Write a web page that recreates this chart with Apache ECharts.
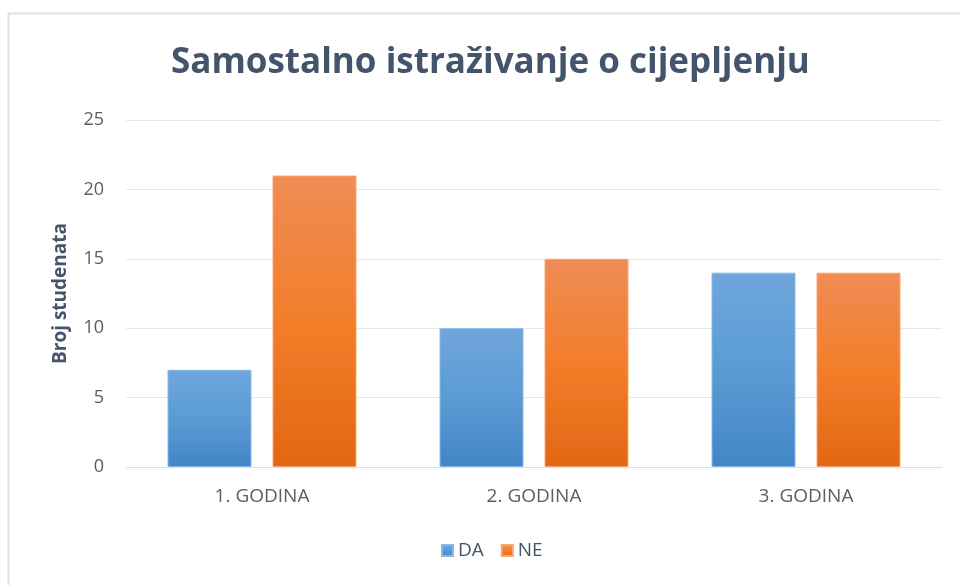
<!DOCTYPE html>
<html>
<head>
<meta charset="utf-8">
<script src="https://cdn.jsdelivr.net/npm/echarts@6/dist/echarts.min.js"></script>
<style>
  html, body { margin: 0; padding: 0; background: #ffffff; }
  #chart { width: 960px; height: 585px; }
</style>
</head>
<body>
<div id="chart"></div>
<script>
const categories = ['1. GODINA', '2. GODINA', '3. GODINA'];
const daValues = [7, 10, 14];
const neValues = [21, 15, 14];
const yTicks = { min: 0, max: 25, interval: 5 };

const fontFamily = '"Open Sans", Lato, sans-serif';

function vGrad(top, bottom) {
  return new echarts.graphic.LinearGradient(0, 0, 0, 1, [
    { offset: 0, color: top },
    { offset: 0.5, color: bottom[0] },
    { offset: 1, color: bottom[1] }
  ]);
}

const chart = echarts.init(document.getElementById('chart'), null, { renderer: 'canvas' });

chart.setOption({
  backgroundColor: '#ffffff',
  animation: false,
  graphic: [{
    type: 'rect',
    shape: { x: 8.5, y: 13.5, width: 1000, height: 600 },
    style: { fill: 'none', stroke: '#dfe2e8', lineWidth: 2 },
    silent: true,
    z: -10
  }],
  title: {
    text: 'Samostalno istraživanje o cijepljenju',
    left: 166,
    top: 41,
    textStyle: {
      fontFamily: fontFamily,
      fontSize: 35,
      fontWeight: 'bold',
      color: '#44546a'
    }
  },
  legend: {
    bottom: 20,
    left: 436,
    itemWidth: 11,
    itemHeight: 11,
    itemGap: 17,
    icon: 'rect',
    textStyle: { fontFamily: fontFamily, fontSize: 19, color: '#44546a' },
    data: ['DA', 'NE']
  },
  grid: { left: 126, right: 18, top: 120, bottom: 118 },
  xAxis: {
    type: 'category',
    data: categories,
    axisLine: { show: true, lineStyle: { color: '#d9dde4', width: 1 } },
    axisTick: { show: false },
    axisLabel: {
      margin: 20,
      fontFamily: fontFamily,
      fontSize: 19,
      color: '#595e66'
    }
  },
  yAxis: {
    type: 'value',
    min: yTicks.min,
    max: yTicks.max,
    interval: yTicks.interval,
    name: 'Broj studenata',
    nameLocation: 'middle',
    nameGap: 56,
    nameTextStyle: {
      fontFamily: fontFamily,
      fontSize: 19,
      fontWeight: 'bold',
      color: '#44546a'
    },
    axisLine: { show: false },
    axisTick: { show: false },
    axisLabel: {
      margin: 22,
      fontFamily: fontFamily,
      fontSize: 18,
      color: '#595e66'
    },
    splitLine: { lineStyle: { color: '#e3e6ec', width: 1 } }
  },
  series: [
    {
      name: 'DA',
      type: 'bar',
      data: daValues,
      barWidth: 84,
      barGap: '25%',
      itemStyle: {
        color: vGrad('#6fa6dc', ['#5b9bd5', '#4386c6']),
        borderColor: '#8ab8e6',
        borderWidth: 1
      }
    },
    {
      name: 'NE',
      type: 'bar',
      data: neValues,
      barWidth: 84,
      barGap: '25%',
      itemStyle: {
        color: vGrad('#f08c55', ['#f27e2a', '#e26715']),
        borderColor: '#f5a778',
        borderWidth: 1
      }
    }
  ]
});
</script>
</body>
</html>
